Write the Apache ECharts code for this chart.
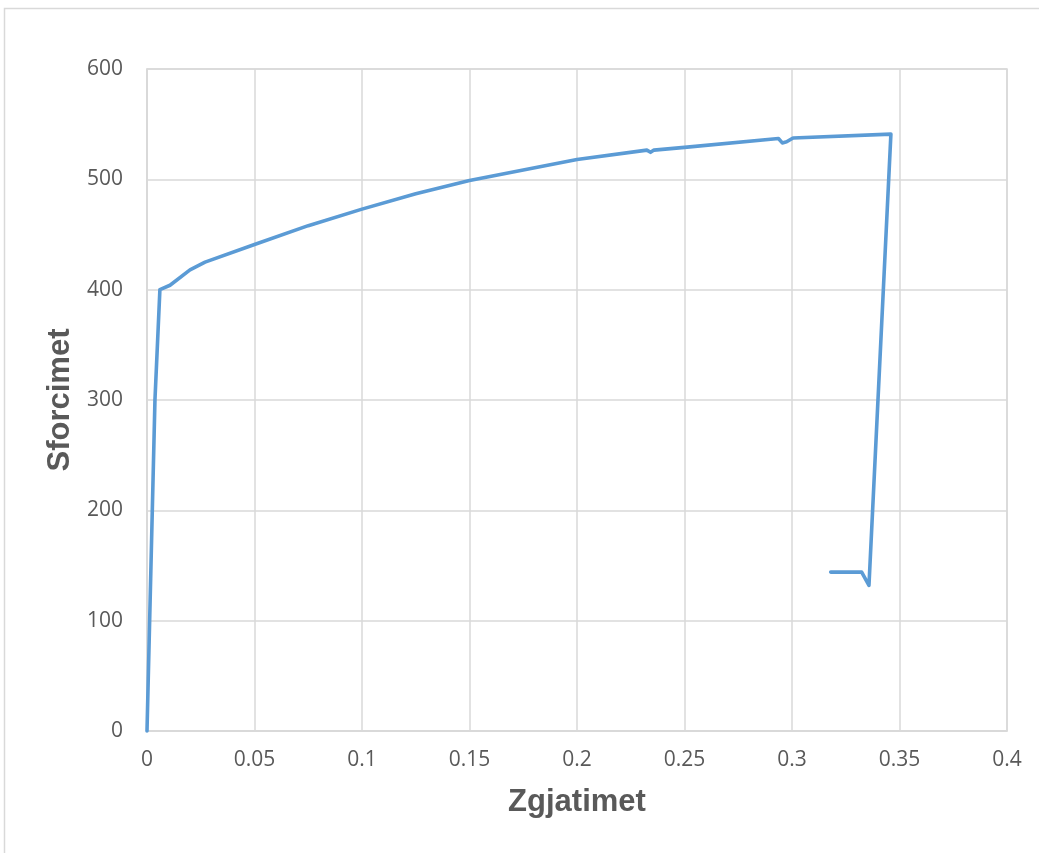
<!DOCTYPE html>
<html>
<head>
<meta charset="utf-8">
<script src="https://cdn.jsdelivr.net/npm/echarts@6/dist/echarts.min.js"></script>
<style>
  html, body { margin: 0; padding: 0; background: #ffffff; }
  #chart { width: 1039px; height: 853px; }
</style>
</head>
<body>
<div id="chart"></div>
<script>
// Tensile test: elongation (Zgjatimet) vs stress (Sforcimet)
const strainVals = [0, 0.0037, 0.006, 0.0107, 0.02, 0.027, 0.05, 0.075, 0.1, 0.125, 0.15, 0.2,
  0.2325, 0.2342, 0.2358, 0.25, 0.2937, 0.2955, 0.2975, 0.3005, 0.346, 0.3358, 0.3324, 0.318];
const stressVals = [0, 300, 400, 404, 418, 425, 441, 458, 473, 487, 499, 518,
  526.5, 524.5, 526.5, 529, 537, 533, 534, 537.5, 541, 132, 144, 144];
const xTicks = [0, 0.05, 0.1, 0.15, 0.2, 0.25, 0.3, 0.35, 0.4];
const yTicks = [0, 100, 200, 300, 400, 500, 600];

const points = strainVals.map((x, i) => [x, stressVals[i]]);

const chart = echarts.init(document.getElementById('chart'), null, { renderer: 'canvas' });
const labelStyle = { color: '#595959', fontSize: 21, fontFamily: 'Open Sans' };
const titleStyle = { color: '#595959', fontSize: 31, fontWeight: 'bold', fontFamily: 'Liberation Sans' };
const gridColor = '#d9d9d9';

chart.setOption({
  backgroundColor: '#ffffff',
  animation: false,
  graphic: [{
    type: 'rect',
    shape: { x: 4.5, y: 8.5, width: 1100, height: 900 },
    style: { fill: 'none', stroke: gridColor, lineWidth: 1.5 },
    silent: true
  }],
  grid: { left: 147, right: 32, top: 69, bottom: 122, show: true, borderColor: gridColor, borderWidth: 1.5 },
  xAxis: {
    type: 'value',
    min: xTicks[0],
    max: xTicks[xTicks.length - 1],
    interval: 0.05,
    name: 'Zgjatimet',
    nameLocation: 'middle',
    nameGap: 56,
    nameTextStyle: titleStyle,
    axisLine: { show: true, lineStyle: { color: gridColor, width: 1.5 } },
    axisTick: { show: false },
    axisLabel: Object.assign({ margin: 19, formatter: v => String(+v.toFixed(2)) }, labelStyle),
    splitLine: { show: true, lineStyle: { color: gridColor, width: 1.5 } }
  },
  yAxis: {
    type: 'value',
    min: yTicks[0],
    max: yTicks[yTicks.length - 1],
    interval: 100,
    name: 'Sforcimet',
    nameLocation: 'middle',
    nameGap: 71,
    nameTextStyle: titleStyle,
    axisLine: { show: true, lineStyle: { color: gridColor, width: 1.5 } },
    axisTick: { show: false },
    axisLabel: Object.assign({ margin: 24 }, labelStyle),
    splitLine: { show: true, lineStyle: { color: gridColor, width: 1.5 } }
  },
  series: [{
    type: 'line',
    data: points,
    showSymbol: false,
    smooth: false,
    lineStyle: { color: '#5b9bd5', width: 3.6, join: 'round', cap: 'round' },
    clip: false
  }]
});
</script>
</body>
</html>
